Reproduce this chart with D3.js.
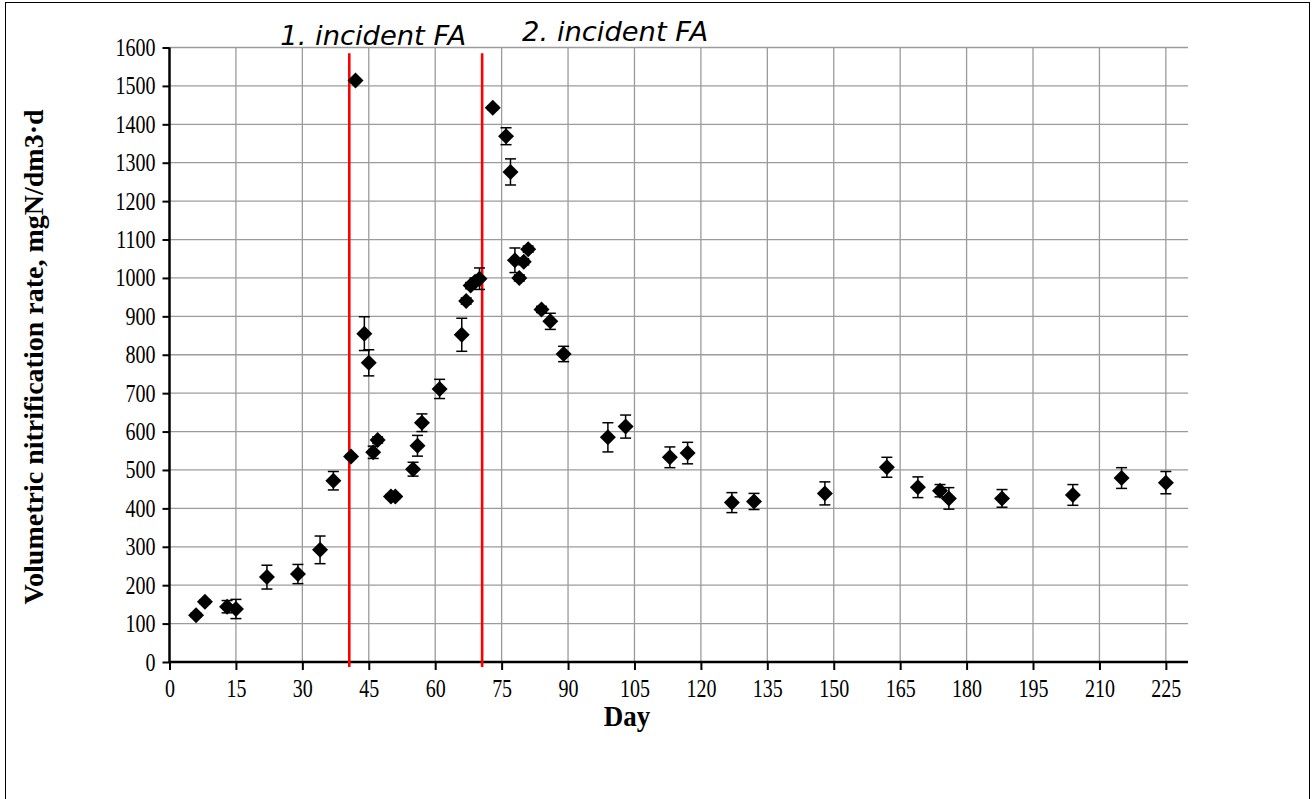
<!DOCTYPE html>
<html>
<head>
<meta charset="utf-8">
<script src="https://cdn.jsdelivr.net/npm/d3@7"></script>
<style>
  html, body { margin: 0; padding: 0; background: #fff; }
  svg { display: block; }
</style>
</head>
<body>
<svg id="chart" width="1312" height="799"></svg>
<script>
// ---- data ----
const days = [6, 8, 13, 15, 22, 29, 34, 37, 41, 42, 44, 45, 46, 47, 50, 51, 55, 56, 57, 61,
  66, 67, 68, 69, 70, 73, 76, 77, 78, 79, 80, 81, 84, 86, 89, 99, 103, 113, 117, 127,
  132, 148, 162, 169, 174, 176, 188, 204, 215, 225];
const rates = [122, 157, 144, 138, 221, 229, 292, 472, 535, 1514, 855, 779, 546, 578, 431, 431, 502, 563, 623, 711,
  852, 940, 980, 990, 998, 1443, 1369, 1276, 1046, 1000, 1042, 1075, 918, 887, 802, 585, 613, 533, 544, 415,
  418, 439, 507, 455, 446, 426, 426, 435, 479, 467];
const errors = [5, 5, 16, 25, 31, 25, 36, 24, 5, 5, 44, 34, 16, 8, 5, 5, 18, 27, 23, 25,
  43, 8, 8, 10, 28, 5, 22, 34, 32, 8, 8, 8, 8, 21, 20, 38, 30, 27, 28, 26,
  21, 30, 26, 27, 16, 28, 23, 27, 27, 29];
const xTicks = [0, 15, 30, 45, 60, 75, 90, 105, 120, 135, 150, 165, 180, 195, 210, 225];
const yTicks = [0, 100, 200, 300, 400, 500, 600, 700, 800, 900, 1000, 1100, 1200, 1300, 1400, 1500, 1600];
const incidentDays = [40.6, 70.6];
const incidentLabels = ["1. incident FA", "2. incident FA"];
const xTitle = "Day";
const yTitle = "Volumetric nitrification rate, mgN/dm3·d";

const svg = d3.select("#chart");
const serif = "'Liberation Serif', 'Times New Roman', serif";
const SY = 1.25; // vertical stretch of the reference's tick text

// outer frame
svg.append("rect").attr("x", 5.5).attr("y", 2.5).attr("width", 1304).attr("height", 820)
  .attr("fill", "none").attr("stroke", "#000").attr("stroke-width", 1);

const x = d3.scaleLinear().domain([0, 230]).range([169.5, 1188]);
const y = d3.scaleLinear().domain([0, 1600]).range([662, 47.5]);

// gridlines
const grid = svg.append("g");
grid.selectAll("line.v").data(xTicks.filter(d => d > 0)).join("line")
  .attr("x1", d => x(d)).attr("x2", d => x(d))
  .attr("y1", y(1600)).attr("y2", y(0))
  .attr("stroke", "#9b9b9b").attr("stroke-width", 1.3);
grid.selectAll("line.h").data(yTicks.filter(d => d > 0)).join("line")
  .attr("x1", x(0)).attr("x2", x(230))
  .attr("y1", d => y(d)).attr("y2", d => y(d))
  .attr("stroke", "#9b9b9b").attr("stroke-width", 1.3);

// axes
const xAxis = d3.axisBottom(x).tickValues(xTicks).tickSize(8).tickFormat(d3.format("d"));
const yAxis = d3.axisLeft(y).tickValues(yTicks).tickSize(7).tickFormat(d3.format("d"));

const gx = svg.append("g").attr("transform", `translate(0,${y(0)})`).call(xAxis);
const gy = svg.append("g").attr("transform", `translate(${x(0)},0)`).call(yAxis);
[gx, gy].forEach(g => {
  g.attr("font-family", null).attr("font-size", null);
  g.select(".domain").attr("stroke", "#000").attr("stroke-width", 2.5);
  g.selectAll(".tick line").attr("stroke", "#000").attr("stroke-width", 2);
  g.selectAll(".tick text").attr("fill", "#000")
    .style("font-family", serif)
    .style("font-size", "20px");
});
gx.select(".domain").attr("d", `M${x(0)},0H${x(230)}`);
gy.select(".domain").attr("d", `M0,${y(0)}V${y(1600)}`);
gx.selectAll(".tick text").attr("dy", null).attr("y", 35 / SY)
  .attr("transform", `scale(1,${SY})`);
gy.selectAll(".tick text").attr("dy", null).attr("x", -14).attr("y", 8 / SY)
  .attr("transform", `scale(1,${SY})`);

// incident lines
svg.selectAll("line.inc").data(incidentDays).join("line")
  .attr("x1", d => x(d)).attr("x2", d => x(d))
  .attr("y1", y(1585)).attr("y2", y(-13))
  .attr("stroke", "#ff0000").attr("stroke-width", 2.6);

// incident labels
const labelPos = [{dx: -69, base: 45}, {dx: 40, base: 41}];
svg.selectAll("text.inc").data(incidentLabels).join("text")
  .attr("x", (d, i) => x(incidentDays[i]) + labelPos[i].dx)
  .attr("y", (d, i) => labelPos[i].base)
  .attr("textLength", 186).attr("lengthAdjust", "spacingAndGlyphs")
  .style("font-family", "'DejaVu Sans', sans-serif")
  .style("font-style", "italic")
  .style("font-size", "27px")
  .attr("fill", "#000")
  .text(d => d);

// error bars
const pts = days.map((d, i) => ({day: d, v: rates[i], e: errors[i]}));
const eb = svg.append("g").attr("stroke", "#000").attr("stroke-width", 1.5);
pts.forEach(p => {
  const cx = x(p.day);
  eb.append("line").attr("x1", cx).attr("x2", cx).attr("y1", y(p.v - p.e)).attr("y2", y(p.v + p.e));
  eb.append("line").attr("x1", cx - 5.5).attr("x2", cx + 5.5).attr("y1", y(p.v - p.e)).attr("y2", y(p.v - p.e));
  eb.append("line").attr("x1", cx - 5.5).attr("x2", cx + 5.5).attr("y1", y(p.v + p.e)).attr("y2", y(p.v + p.e));
});

// markers (diamonds)
const diamond = d3.symbol().type(d3.symbolSquare).size(128);
svg.append("g").selectAll("path").data(pts).join("path")
  .attr("d", diamond)
  .attr("transform", p => `translate(${x(p.day)},${y(p.v)}) rotate(45)`)
  .attr("fill", "#000");

// axis titles
svg.append("text").attr("x", 627).attr("y", 726 / 1.1).attr("text-anchor", "middle")
  .attr("transform", "scale(1,1.1)")
  .style("font-family", serif)
  .style("font-weight", "bold").style("font-size", "27px")
  .text(xTitle);
svg.append("text").attr("transform", "translate(43,357) rotate(-90)").attr("text-anchor", "middle")
  .style("font-family", serif)
  .style("font-weight", "bold").style("font-size", "28px")
  .text(yTitle);
</script>
</body>
</html>
